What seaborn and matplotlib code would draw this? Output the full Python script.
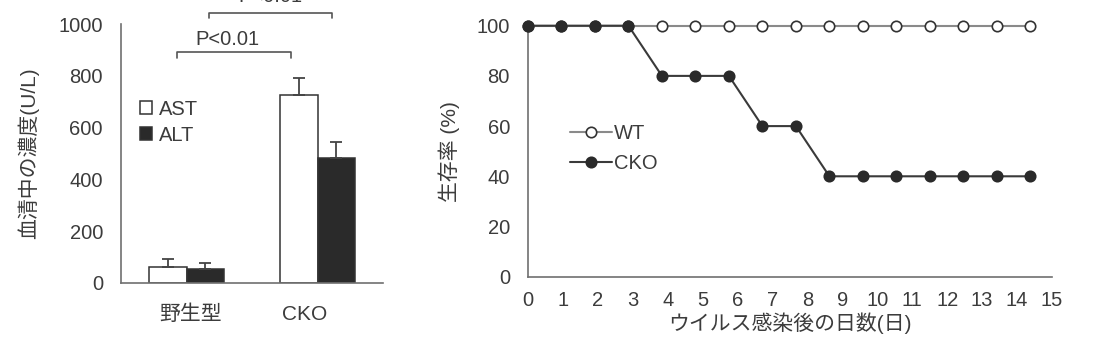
import matplotlib
matplotlib.use("Agg")
import matplotlib.pyplot as plt
import seaborn as sns
import pandas as pd

# ---------------- data ----------------
groups = ['野生型', 'CKO']
enzymes = ['AST', 'ALT']
ast_mean = [59, 726]
ast_err = [31, 66]
alt_mean = [54, 481]
alt_err = [21, 65]
bar_yticks = [0, 200, 400, 600, 800, 1000]

days = [0, 1, 2, 3, 4, 5, 6, 7, 8, 9, 10, 11, 12, 13, 14, 15]
wt_survival = [100, 100, 100, 100, 100, 100, 100, 100, 100, 100, 100, 100, 100, 100, 100, 100]
cko_survival = [100, 100, 100, 100, 80, 80, 80, 60, 60, 40, 40, 40, 40, 40, 40, 40]
surv_yticks = [0, 20, 40, 60, 80, 100]
day_labels = ['0', '1', '2', '3', '4', '5', '6', '7', '8', '9', '10', '11', '12', '13', '14', '15']

sig_text = 'P<0.01'

# ---------------- style ----------------
sns.set_theme(style='white')
plt.rcParams['font.family'] = ['Liberation Sans', 'Noto Sans CJK JP']
TXT = '#3c3c3c'
AX = '#707070'
DARK = '#2a2a2a'
plt.rcParams['text.color'] = TXT
plt.rcParams['axes.labelcolor'] = TXT
plt.rcParams['xtick.color'] = TXT
plt.rcParams['ytick.color'] = TXT

fig = plt.figure(figsize=(10.99, 3.39), dpi=100)
ax1 = fig.add_axes([0.1101, 0.166, 0.2384, 0.7623])
ax2 = fig.add_axes([0.4804, 0.1838, 0.4768, 0.7404])

# ---------------- left: bar chart ----------------
df_bar = pd.DataFrame({
    'group': groups * 2,
    'enzyme': [enzymes[0]] * 2 + [enzymes[1]] * 2,
    'value': ast_mean + alt_mean,
    'err': ast_err + alt_err,
})
sns.barplot(data=df_bar, x='group', y='value', hue='enzyme', order=groups,
            hue_order=enzymes, palette={'AST': 'white', 'ALT': DARK},
            width=0.57, errorbar=None, edgecolor='#333333', linewidth=1.1,
            ax=ax1)

# error bars (upper only) on bar centers
for cont, errs in zip(ax1.containers, [ast_err, alt_err]):
    for patch, e in zip(cont.patches, errs):
        xc = patch.get_x() + patch.get_width() / 2
        h = patch.get_height()
        ax1.errorbar([xc], [h], yerr=[[0], [e]], fmt='none', ecolor='#444444',
                     elinewidth=1.3, capsize=4, capthick=1.3)

ax1.set_xlim(-0.5, 1.5)
ax1.set_ylim(0, 1000)
ax1.set_yticks(bar_yticks)
ax1.set_xticks([0.03, 0.9])
ax1.set_xticklabels(groups)
ax1.set_xlabel('')
ax1.set_ylabel('血清中の濃度(U/L)', fontsize=15, labelpad=14)
ax1.tick_params(axis='y', direction='in', length=5, width=1.1, color=AX,
                labelsize=14.5, pad=13)
ax1.tick_params(axis='x', length=0, labelsize=15, pad=16)
for s in ['top', 'right']:
    ax1.spines[s].set_visible(False)
for s in ['left', 'bottom']:
    ax1.spines[s].set_color(AX)
    ax1.spines[s].set_linewidth(1.2)

h, l = ax1.get_legend_handles_labels()
ax1.legend(h, l, loc='upper left', bbox_to_anchor=(0.04, 0.74), frameon=False,
           fontsize=14.5, handlelength=0.6, handleheight=0.6,
           handletextpad=0.35, labelspacing=0.35, borderaxespad=0)

# significance brackets
def bracket(ax, x0, x1, y, drop, text_x, text_y):
    ax.plot([x0, x0, x1, x1], [y - drop, y, y, y - drop], color='#555555',
            lw=1.2, clip_on=False)
    ax.text(text_x, text_y, sig_text, ha='center', va='bottom', fontsize=14.5,
            color=TXT, clip_on=False)

bracket(ax1, -0.07, 0.80, 893, 22, 0.31, 905)
bracket(ax1, 0.17, 1.11, 1042, 18, 0.64, 1072)

# ---------------- right: survival ----------------
df_s = pd.DataFrame({'day': days * 2,
                     'survival': wt_survival + cko_survival,
                     'grp': ['WT'] * len(days) + ['CKO'] * len(days)})
sns.lineplot(data=df_s[df_s.grp == 'WT'], x='day', y='survival', ax=ax2,
             color='#8a8a8a', lw=1.5, marker='o', markersize=7.5,
             markerfacecolor='white', markeredgecolor='#333333',
             markeredgewidth=1.2, clip_on=False, label='WT', zorder=3)
sns.lineplot(data=df_s[df_s.grp == 'CKO'], x='day', y='survival', ax=ax2,
             color='#3a3a3a', lw=1.5, marker='o', markersize=7.5,
             markerfacecolor=DARK, markeredgecolor=DARK,
             markeredgewidth=1.2, clip_on=False, label='CKO', zorder=4)

ax2.set_xlim(0, 15)
ax2.set_ylim(0, 100)
ax2.set_yticks(surv_yticks)
# tick marks on each day; labels drawn slightly stretched like the original
ax2.set_xticks(days, minor=True)
ax2.set_xticks([d * 1.043 for d in days])
ax2.set_xticklabels(day_labels)
ax2.tick_params(axis='x', which='major', length=0, labelsize=14.5, pad=10)
ax2.tick_params(axis='x', which='minor', direction='in', length=4, width=1.1,
                color=AX)
ax2.tick_params(axis='y', direction='in', length=5, width=1.1, color=AX,
                labelsize=14.5, pad=13)
ax2.set_xlabel('ウイルス感染後の日数(日)', fontsize=15, labelpad=2)
ax2.set_ylabel('生存率 (%)', fontsize=15, labelpad=12)
for s in ['top', 'right']:
    ax2.spines[s].set_visible(False)
for s in ['left', 'bottom']:
    ax2.spines[s].set_color(AX)
    ax2.spines[s].set_linewidth(1.2)

ax2.legend(loc='upper left', bbox_to_anchor=(0.065, 0.64), frameon=False,
           fontsize=14.5, handlelength=2.1, handletextpad=0.1,
           labelspacing=0.55, borderaxespad=0)

fig.savefig('out.png', dpi=100)
